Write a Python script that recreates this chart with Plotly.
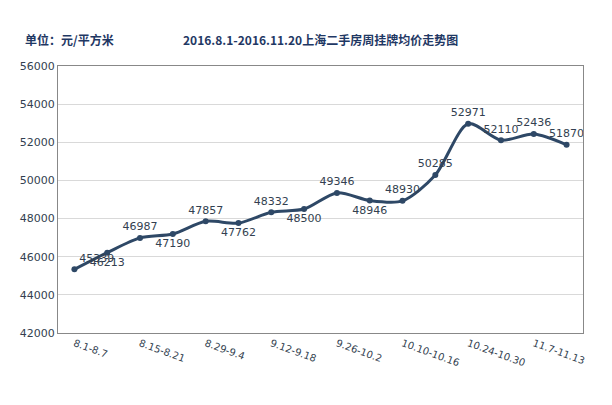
import plotly.graph_objects as go

weeks = ["8.1-8.7", "8.8-8.14", "8.15-8.21", "8.22-8.28", "8.29-9.4", "9.5-9.11",
         "9.12-9.18", "9.19-9.25", "9.26-10.2", "10.3-10.9", "10.10-10.16",
         "10.17-10.23", "10.24-10.30", "10.31-11.6", "11.7-11.13", "11.14-11.20"]
prices = [45339, 46213, 46987, 47190, 47857, 47762, 48332, 48500, 49346, 48946,
          48930, 50285, 52971, 52110, 52436, 51870]
label_pos = ["top right", "bottom center", "top center", "bottom center", "top center",
             "bottom center", "top center", "bottom center", "top center", "bottom center",
             "top center", "top center", "top center", "top center", "top center", "top center"]
shown_ticks = weeks[::2]

line_color = "#2E4866"
text_color = "#333F50"

fig = go.Figure()
fig.add_trace(go.Scatter(
    x=weeks, y=prices,
    mode="lines+markers+text",
    line=dict(color=line_color, width=3, shape="spline", smoothing=0.8),
    marker=dict(size=6, color=line_color),
    text=[str(v) for v in prices],
    textposition=label_pos,
    textfont=dict(size=11, color=text_color, family="DejaVu Sans"),
    showlegend=False,
))

fig.update_layout(
    width=612, height=405,
    margin=dict(l=47, r=37, t=58, b=80),
    paper_bgcolor="white", plot_bgcolor="white",
    font=dict(family="Noto Sans CJK SC", color=text_color, size=11),
    annotations=[
        dict(text="<b>单位：元/平方米</b>", x=-0.066, y=1.10, xref="paper", yref="paper",
             xanchor="left", yanchor="middle", showarrow=False,
             font=dict(size=12, color="#1F3864")),
        dict(text="<b>2016.8.1-2016.11.20上海二手房周挂牌均价走势图</b>", x=0.50, y=1.10,
             xref="paper", yref="paper", xanchor="center", yanchor="middle", showarrow=False,
             font=dict(size=12, color="#1F3864")),
    ],
)

fig.update_xaxes(
    tickmode="array", tickvals=shown_ticks, ticktext=shown_ticks,
    tickangle=20, showgrid=False, showline=True, linecolor="#888", mirror=True,
    tickfont=dict(size=10, family="DejaVu Sans", color=text_color),
    range=[-0.5, 15.5],
)
fig.update_yaxes(
    range=[42000, 56000], dtick=2000, tickformat="d", showgrid=True, gridcolor="#D9D9D9",
    showline=True, linecolor="#888", mirror=True,
    tickfont=dict(size=11, family="DejaVu Sans", color=text_color),
)

fig.write_html("out.html")
